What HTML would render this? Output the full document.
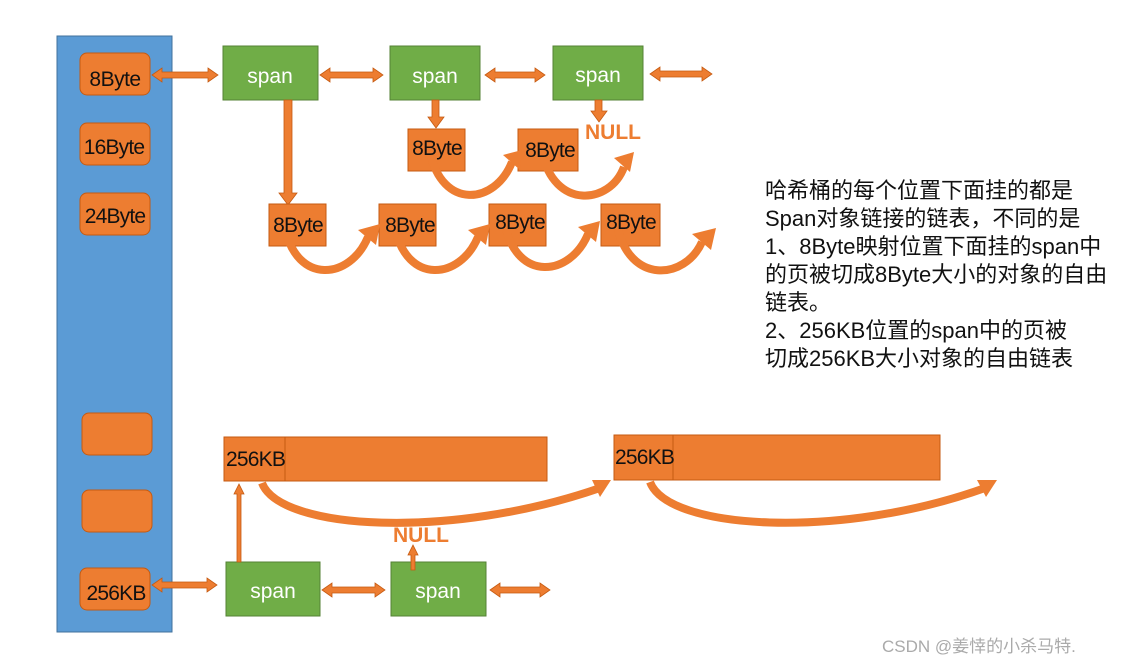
<!DOCTYPE html>
<html><head><meta charset="utf-8"><style>
body{margin:0;background:#fff;width:1129px;height:664px;overflow:hidden}
svg text{font-family:"Liberation Sans","Noto Sans CJK SC",sans-serif}
</style></head><body>
<svg width="1129" height="664" viewBox="0 0 1129 664" xmlns="http://www.w3.org/2000/svg">
<rect x="57" y="36" width="115" height="596" fill="#5b9bd5" stroke="#41719c"/>
<g fill="#ed7d31" stroke="#c55a11" stroke-width="1">
<rect x="80" y="53" width="70" height="42" rx="7"/>
<rect x="80" y="123" width="70" height="42" rx="7"/>
<rect x="80" y="193" width="70" height="42" rx="7"/>
<rect x="82" y="413" width="70" height="42" rx="7"/>
<rect x="82" y="490" width="70" height="42" rx="7"/>
<rect x="80" y="568" width="70" height="42" rx="7"/>
</g>
<g font-size="21" fill="#111" text-anchor="middle" textLength="0">
<text x="115" y="86" letter-spacing="-0.5">8Byte</text>
<text x="114" y="154" letter-spacing="-0.8">16Byte</text>
<text x="115" y="223" letter-spacing="-0.8">24Byte</text>
<text x="116" y="600" letter-spacing="-0.8">256KB</text>
</g>
<g fill="#70ad47" stroke="#548235">
<rect x="223" y="46" width="95" height="54"/>
<rect x="390" y="46" width="90" height="54"/>
<rect x="553" y="46" width="90" height="54"/>
<rect x="226" y="562" width="94" height="54"/>
<rect x="391" y="562" width="95" height="54"/>
</g>
<g font-size="21" fill="#fff" text-anchor="middle">
<text x="270" y="83">span</text>
<text x="435" y="83">span</text>
<text x="598" y="82">span</text>
<text x="273" y="598">span</text>
<text x="438" y="598">span</text>
</g>
<g fill="#ed7d31" stroke="#c55a11" stroke-width="0.8">
<polygon points="152,75 162,68 162,72 208,72 208,68 218,75 208,82 208,78 162,78 162,82"/>
<polygon points="320,75 330,68 330,72 373,72 373,68 383,75 373,82 373,78 330,78 330,82"/>
<polygon points="485,75 495,68 495,72 535,72 535,68 545,75 535,82 535,78 495,78 495,82"/>
<polygon points="650,74 660,67 660,71 702,71 702,67 712,74 702,81 702,77 660,77 660,81"/>
<polygon points="152,585 162,578 162,582 207,582 207,578 217,585 207,592 207,588 162,588 162,592"/>
<polygon points="322,590 332,583 332,587 375,587 375,583 385,590 375,597 375,593 332,593 332,597"/>
<polygon points="490,590 500,583 500,587 540,587 540,583 550,590 540,597 540,593 500,593 500,597"/>
<polygon points="284,100 292,100 292,193 297,193 288,205 279,193 284,193"/>
<polygon points="432,100 439,100 439,117 444,117 436,128 428,117 432,117"/>
<polygon points="595,100 602,100 602,111 607,111 599,122 591,111 595,111"/>
<polygon points="237,562 241,562 241,494 244,494 239,484 234,494 237,494"/>
<polygon points="411,570 415,570 415,555 418,555 413,545 408,555 411,555"/>
</g>
<g fill="#ed7d31" stroke="#c55a11">
<rect x="408" y="129" width="57" height="42"/>
<rect x="518" y="129" width="60" height="42"/>
<rect x="269" y="204" width="57" height="42"/>
<rect x="379" y="204" width="57" height="42"/>
<rect x="489" y="204" width="57" height="42"/>
<rect x="601" y="204" width="59" height="42"/>
<rect x="224" y="437" width="323" height="44"/>
<rect x="614" y="435" width="326" height="45"/>
</g>
<g stroke="#c55a11" fill="none"><line x1="285" y1="437" x2="285" y2="481"/><line x1="673" y1="435" x2="673" y2="480"/></g>
<g fill="none" stroke="#ed7d31" stroke-width="8">
<path d="M430,152 C442,210 495,205 512,162"/>
<path d="M542,152 C554,210 610,205 624,167"/>
<path d="M285,228 C297,285 350,280 368,237"/>
<path d="M395,228 C407,285 460,280 478,237"/>
<path d="M505,225 C517,282 570,277 588,234"/>
<path d="M617,225 C629,285 685,280 702,242"/>
<path d="M262,483 C280,530 450,540 600,488"/>
<path d="M650,482 C668,530 840,540 985,488"/>
</g>
<g fill="#ed7d31">
<polygon points="503,155 522,150 520,170"/>
<polygon points="614,158 634,152 630,172"/>
<polygon points="358,230 380,224 376,245"/>
<polygon points="468,230 490,224 486,245"/>
<polygon points="578,227 600,221 596,242"/>
<polygon points="692,234 716,228 711,250"/>
<polygon points="592,480 611,480 600,497"/>
<polygon points="977,480 997,480 986,497"/>
</g>
<g font-size="21" fill="#111" text-anchor="middle" letter-spacing="-0.8">
<text x="437" y="155">8Byte</text>
<text x="550" y="157">8Byte</text>
<text x="298" y="232">8Byte</text>
<text x="410" y="232">8Byte</text>
<text x="520" y="229">8Byte</text>
<text x="631" y="229">8Byte</text>
</g>
<g font-size="21" fill="#111" letter-spacing="-0.8">
<text x="226" y="466">256KB</text>
<text x="615" y="464">256KB</text>
</g>
<g font-size="21" font-weight="bold" fill="#ed7d31">
<text x="585" y="139">NULL</text>
<text x="393" y="542">NULL</text>
</g>
<g font-size="22" fill="#111">
<text x="765" y="198">哈希桶的每个位置下面挂的都是</text>
<text x="765" y="226">Span对象链接的链表，不同的是</text>
<text x="765" y="254">1、8Byte映射位置下面挂的span中</text>
<text x="765" y="282">的页被切成8Byte大小的对象的自由</text>
<text x="765" y="310">链表。</text>
<text x="765" y="338">2、256KB位置的span中的页被</text>
<text x="765" y="366">切成256KB大小对象的自由链表</text>
</g>
<text x="882" y="652" font-size="17" fill="#aaa">CSDN @姜悻的小杀马特.</text>
</svg>
</body></html>
